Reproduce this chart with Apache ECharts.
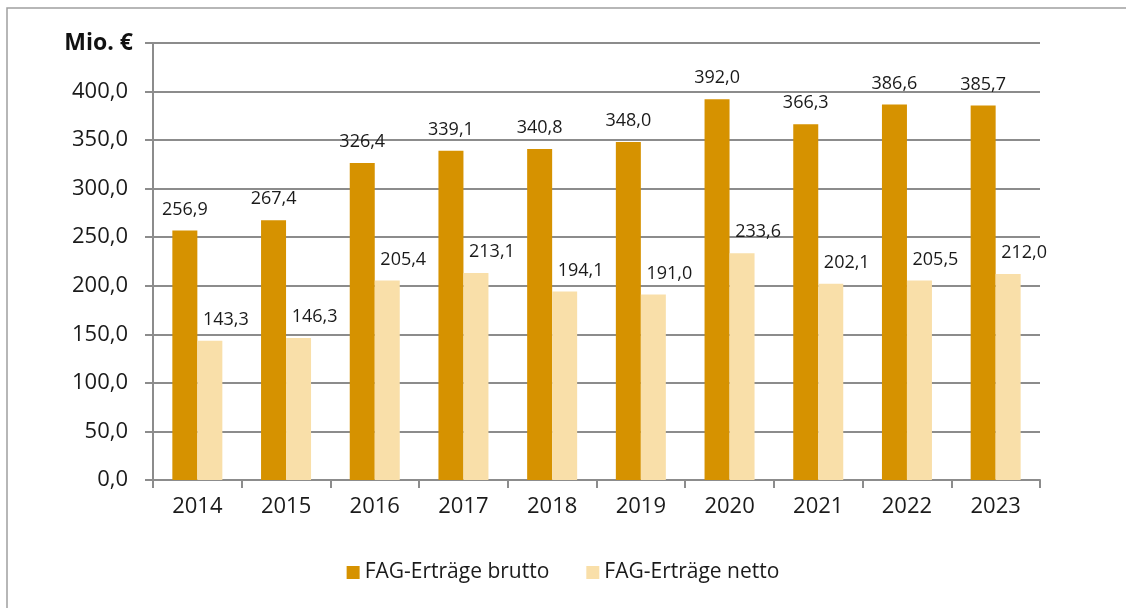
<!DOCTYPE html>
<html>
<head>
<meta charset="utf-8">
<script src="https://cdn.jsdelivr.net/npm/echarts@6/dist/echarts.min.js"></script>
<style>
  html, body { margin: 0; padding: 0; background: #fff; }
  #chart { width: 1126px; height: 608px; }
</style>
</head>
<body>
<div id="chart"></div>
<script>
const years = ['2014', '2015', '2016', '2017', '2018', '2019', '2020', '2021', '2022', '2023']
const brutto = [256.9, 267.4, 326.4, 339.1, 340.8, 348.0, 392.0, 366.3, 386.6, 385.7]
const netto = [143.3, 146.3, 205.4, 213.1, 194.1, 191.0, 233.6, 202.1, 205.5, 212.0]
const seriesNames = ['FAG-Erträge brutto', 'FAG-Erträge netto']
const unitLabel = 'Mio. €'

const fmt = v => v.toFixed(1).replace('.', ',')
const font = '"Open Sans", "Noto Sans", sans-serif'
const gridColor = '#8c8c8c'

const chart = echarts.init(document.getElementById('chart'))

const option = {
  animation: false,
  textStyle: { fontFamily: font, color: '#1a1a1a' },
  title: {
    text: unitLabel,
    right: 988,
    top: 27,
    textStyle: { fontFamily: font, fontSize: 23, fontWeight: 'bold', color: '#111' }
  },
  graphic: [
    {
      type: 'rect',
      shape: { x: 7, y: 8, width: 1200, height: 700 },
      style: { fill: 'none', stroke: '#a0a0a0', lineWidth: 1.5 },
      silent: true
    }
  ],
  legend: {
    data: seriesNames,
    bottom: 20,
    left: 'center',
    itemWidth: 13,
    itemHeight: 13,
    itemGap: 37,
    icon: 'rect',
    textStyle: { fontFamily: font, fontSize: 21, color: '#1a1a1a' }
  },
  grid: { left: 153, right: 86, top: 43, bottom: 128, containLabel: false },
  xAxis: {
    type: 'category',
    data: years,
    axisLine: { lineStyle: { color: gridColor, width: 2 } },
    axisTick: { show: true, length: 8, lineStyle: { color: gridColor, width: 2 } },
    axisLabel: { fontFamily: font, fontSize: 22, color: '#1a1a1a', margin: 16 }
  },
  yAxis: {
    type: 'value',
    min: 0,
    max: 450,
    interval: 50,
    axisLine: { show: true, lineStyle: { color: gridColor, width: 2 } },
    axisTick: { show: true, length: 8, lineStyle: { color: gridColor, width: 2 } },
    splitLine: { lineStyle: { color: gridColor, width: 2 } },
    axisLabel: {
      fontFamily: font,
      fontSize: 22,
      color: '#1a1a1a',
      margin: 25,
      formatter: v => (v === 450 ? '' : fmt(v))
    }
  },
  series: [
    {
      name: seriesNames[0],
      type: 'bar',
      data: brutto,
      barWidth: 25,
      barGap: '0%',
      itemStyle: { color: '#d69200' },
      label: {
        show: true,
        position: 'top',
        distance: 12,
        fontFamily: font,
        fontSize: 18,
        color: '#1a1a1a',
        formatter: p => fmt(p.value)
      }
    },
    {
      name: seriesNames[1],
      type: 'bar',
      data: netto,
      barWidth: 25,
      itemStyle: { color: '#f9dfa9' },
      label: {
        show: true,
        position: 'top',
        distance: 12,
        offset: [16, 0],
        fontFamily: font,
        fontSize: 18,
        color: '#1a1a1a',
        formatter: p => fmt(p.value)
      }
    }
  ]
}

chart.setOption(option)
</script>
</body>
</html>
